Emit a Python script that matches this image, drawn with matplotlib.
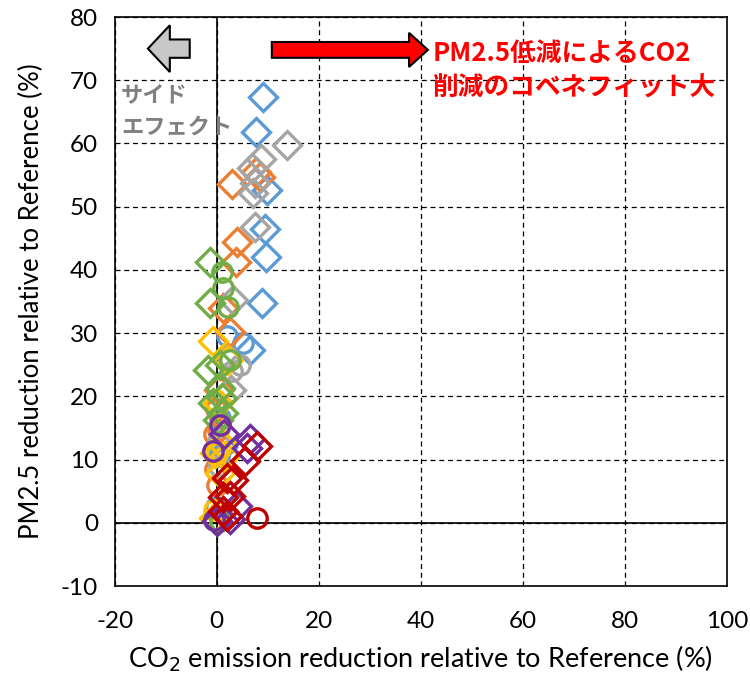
import matplotlib.pyplot as plt
from matplotlib.patches import FancyArrow

plt.rcParams['font.family'] = ['Lato', 'Noto Sans CJK JP', 'DejaVu Sans']
plt.rcParams['axes.unicode_minus'] = False

# series: (x = CO2 reduction %, y = PM2.5 reduction %)
blue_d_x = [9.0, 7.6, 9.8, 9.4, 9.6, 8.8, 6.5, 1.0]
blue_d_y = [67.4, 61.8, 52.6, 46.4, 42.0, 34.7, 27.3, 12.0]
blue_c_x = [2.0, 5.1, 0.6, -0.2, 0.5]
blue_c_y = [29.5, 28.5, 16.5, 2.5, 10.5]

orange_d_x = [3.0, 8.4, 7.6, 3.9, 3.7, 1.2, 2.5, 0.5]
orange_d_y = [53.6, 54.7, 55.5, 44.4, 41.2, 34.0, 30.2, 21.0]
orange_c_x = [0.3, -0.3, 0.0, -0.5, -0.2]
orange_c_y = [14.6, 8.5, 6.0, 14.0, 18.0]

gray_d_x = [13.7, 8.6, 6.9, 7.5, 7.1, 7.5, 3.2, 2.8]
gray_d_y = [59.7, 57.5, 56.1, 53.7, 52.1, 46.8, 35.3, 21.0]
gray_c_x = [4.5, 3.0, 2.3, 0.3, 0.5, 1.0]
gray_c_y = [24.9, 24.0, 26.2, 13.0, 9.0, 2.0]

yellow_d_x = [-0.8, 2.2, 0.3, 1.0, -0.3, 1.6, 0.6, -0.5]
yellow_d_y = [28.8, 25.7, 19.0, 12.5, 11.1, 10.6, 7.9, 0.8]
yellow_c_x = [0.0, -0.5]
yellow_c_y = [11.0, 2.0]

green_d_x = [-1.4, -1.4, -1.8, 0.6, -0.8, 1.2, 0.2, 1.0, 0.6]
green_d_y = [41.2, 34.7, 24.1, 24.9, 19.0, 17.3, 16.2, 19.8, 21.3]
green_c_x = [1.0, 1.2, 2.2, 2.5, 0.6]
green_c_y = [39.6, 37.1, 34.2, 25.7, 0.3]

purple_d_x = [6.5, 6.0, 3.9, 2.5, 0.0, 1.5]
purple_d_y = [13.3, 11.9, 2.7, 0.6, 0.3, 14.0]
purple_c_x = [0.6, -0.8, -0.5]
purple_c_y = [15.4, 11.4, 0.5]

red_d_x = [7.8, 5.5, 2.0, 3.1, 1.2, 2.5, 2.0, 1.2]
red_d_y = [12.2, 9.8, 7.1, 6.7, 4.0, 4.3, 1.1, 1.9]
red_c_x = [7.8]
red_c_y = [0.8]

x_ticks = [-20, 0, 20, 40, 60, 80, 100]
y_ticks = [-10, 0, 10, 20, 30, 40, 50, 60, 70, 80]

series = [
    ('#5B9BD5', blue_d_x, blue_d_y, blue_c_x, blue_c_y),
    ('#ED7D31', orange_d_x, orange_d_y, orange_c_x, orange_c_y),
    ('#A5A5A5', gray_d_x, gray_d_y, gray_c_x, gray_c_y),
    ('#FFC000', yellow_d_x, yellow_d_y, yellow_c_x, yellow_c_y),
    ('#70AD47', green_d_x, green_d_y, green_c_x, green_c_y),
    ('#7030A0', purple_d_x, purple_d_y, purple_c_x, purple_c_y),
    ('#C00000', red_d_x, red_d_y, red_c_x, red_c_y),
]

fig = plt.figure(figsize=(7.5, 6.81), dpi=100)
ax = fig.add_axes([0.153, 0.1395, 0.816, 0.8355])

ax.set_xlim(-20, 100)
ax.set_ylim(-10, 80)
ax.set_xticks(x_ticks)
ax.set_yticks(y_ticks)
ax.grid(True, color='black', linestyle=(0, (4, 3)), linewidth=0.9)
ax.axvline(0, color='black', lw=1.2, zorder=1)
ax.axhline(0, color='black', lw=1.2, zorder=1)
for s in ax.spines.values():
    s.set_color('black')
    s.set_linewidth(1.2)
ax.tick_params(length=0, labelsize=17.5)
ax.tick_params(axis='x', pad=18)
ax.tick_params(axis='y', pad=12)

for color, dx, dy, cx, cy in series:
    ax.plot(cx, cy, linestyle='none', marker='o', markersize=14,
            markerfacecolor='none', markeredgecolor=color, markeredgewidth=2.4, zorder=3)
    ax.plot(dx, dy, linestyle='none', marker='D', markersize=14.5,
            markerfacecolor='none', markeredgecolor=color, markeredgewidth=2.4, zorder=3)

# arrows
ax.add_patch(FancyArrow(-5.3, 75.0, -3.9, 0, width=2.9, head_width=7.4, head_length=4.3,
                        facecolor='#C8C8C8', edgecolor='black', linewidth=1.5, zorder=4))
ax.add_patch(FancyArrow(10.8, 74.8, 26.9, 0, width=2.5, head_width=5.4, head_length=3.7,
                        facecolor='#FF0000', edgecolor='black', linewidth=1.5, zorder=4))

ax.text(-18.8, 67.7, 'サイド', color='#808080', fontsize=16, fontweight='bold',
        family=['Noto Sans CJK JP'], va='center', ha='left')
ax.text(-18.8, 62.6, 'エフェクト', color='#808080', fontsize=16, fontweight='bold',
        family=['Noto Sans CJK JP'], va='center', ha='left')
ax.text(42.3, 74.3, 'PM2.5低減によるCO2', color='#FF0000', fontsize=18.5, fontweight='bold',
        family=['Noto Sans CJK JP'], va='center', ha='left')
ax.text(42.3, 68.7, '削減のコベネフィット大', color='#FF0000', fontsize=18.5, fontweight='bold',
        family=['Noto Sans CJK JP'], va='center', ha='left')

ax.set_xlabel('CO$_2$ emission reduction relative to Reference (%)', fontsize=19.5, labelpad=8)
ax.set_ylabel('PM2.5 reduction relative to Reference (%)', fontsize=18.5, labelpad=12)

fig.savefig('out.png', dpi=100)
